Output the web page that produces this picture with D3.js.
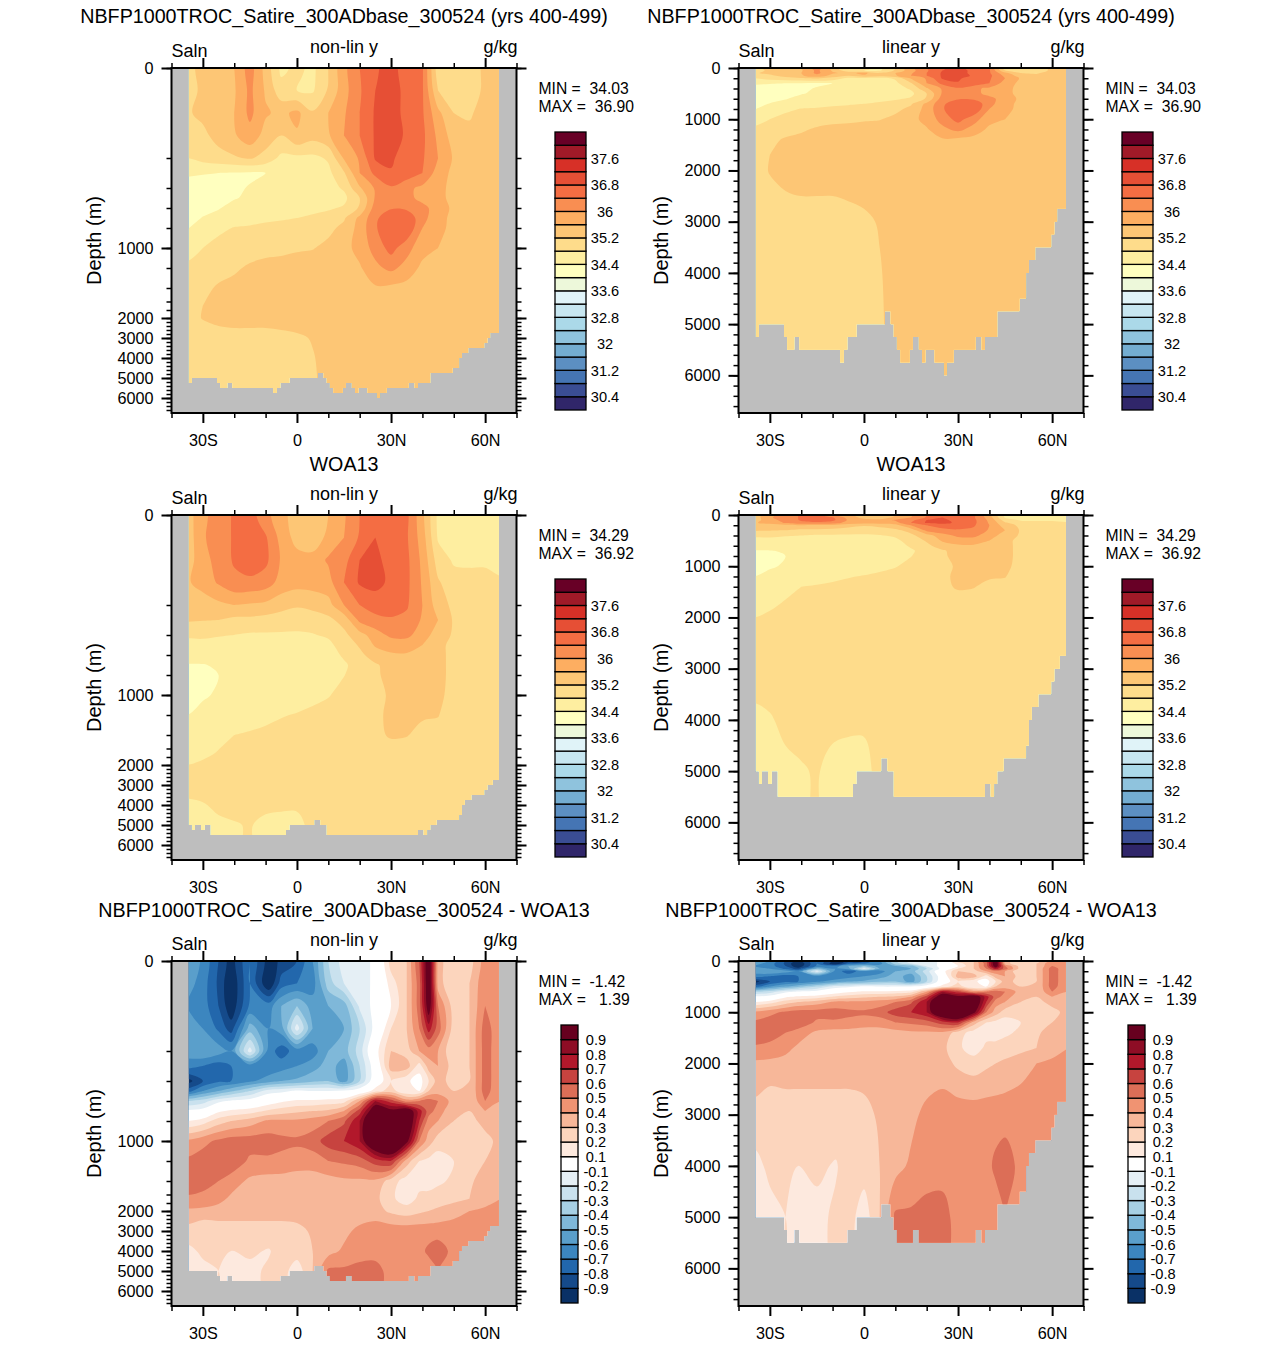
<!DOCTYPE html>
<html>
<head>
<meta charset="utf-8">
<script src="https://d3js.org/d3.v7.min.js"></script>
<style>
  body { margin: 0; background: #fff; }
  text { font-family: "Liberation Sans", Arial, sans-serif; fill: #000; white-space: pre; }
  .axis text { font-size: 16.2px; }
</style>
</head>
<body>
<div id="chart"></div>
<script>
const w = 1285;
const h = 1345;

// grid of the sections
const lats = [-35,-30,-25,-20,-15,-10,-5,0,5,10,15,20,25,30,35,40,45,50,55,60,65];
const latsDiff = [-35,-30,-25,-21,-15,-9,-5,0,5,10,15,20,25,30,35,39,42,45,50,55,60,65];
const depths = [0,50,100,150,200,300,400,500,600,700,800,1000,1200,1400,1700,2000,3000,4000,5000,6000];

// model salinity, one row per depth
const saltModel = [
  [35.1,35.3,35.4,35.6,36.2,35.45,34.7,34.9,34.7,35.2,35.9,36.4,36.75,36.95,36.6,36.45,34.95,34.9,34.95,35.3,35.2],
  [35.1,35.25,35.4,35.55,36.1,35.55,34.95,34.8,34.75,35.25,35.85,36.35,36.8,36.95,36.7,36.45,35.2,34.95,34.95,35.3,35.2],
  [35.15,35.3,35.4,35.6,36.1,35.65,35.5,35.7,35.25,35.6,35.95,36.4,36.85,36.95,36.7,36.45,35.7,35.2,35.15,35.35,35.35],
  [35.05,35.1,35.35,35.55,35.85,35.45,35.2,35.55,35.35,35.55,36.0,36.4,36.85,36.95,36.75,36.5,35.9,35.4,35.3,35.3,35.3],
  [34.8,34.95,35.05,35.15,35.25,35.05,34.7,34.7,34.7,34.85,35.65,36.05,36.85,36.9,36.5,36.45,36.0,35.55,35.35,35.35,35.3],
  [34.45,34.42,34.4,34.38,34.35,34.4,34.55,34.6,34.65,34.7,35.15,36.0,36.5,36.75,36.65,36.4,35.8,35.5,35.3,35.5,35.3],
  [34.25,34.25,34.3,34.35,34.42,34.5,34.6,34.62,34.65,34.65,34.85,35.55,36.05,36.35,36.1,35.9,35.75,35.45,35.3,35.35,35.3],
  [34.15,34.3,34.3,34.38,34.45,34.55,34.62,34.65,34.7,34.72,34.7,35.2,36.05,36.2,36.1,35.9,35.75,35.45,35.3,35.3,35.3],
  [34.2,34.28,34.38,34.5,34.55,34.6,34.65,34.68,34.72,34.75,34.85,35.25,36.2,36.35,36.3,36.1,35.85,35.5,35.3,35.3,35.3],
  [34.25,34.42,34.5,34.6,34.65,34.72,34.75,34.8,34.85,34.95,35.15,35.7,36.3,36.75,36.75,36.1,35.8,35.45,35.3,35.3,35.3],
  [34.38,34.55,34.7,34.82,34.85,34.9,34.95,35.0,35.05,35.1,35.3,35.75,36.35,36.75,36.75,36.0,35.75,35.45,35.3,35.3,35.3],
  [34.7,34.8,34.95,35.0,35.05,35.1,35.1,35.15,35.18,35.3,35.45,35.75,36.15,36.55,36.15,35.75,35.6,35.35,35.3,35.3,35.3],
  [34.85,35.0,35.05,35.15,35.25,35.3,35.35,35.38,35.4,35.45,35.5,35.55,35.9,36.1,35.85,35.5,35.45,35.35,35.3,35.3,35.3],
  [34.95,35.1,35.25,35.3,35.35,35.35,35.4,35.4,35.42,35.43,35.45,35.45,35.55,35.5,35.45,35.4,35.38,35.35,35.3,35.3,35.3],
  [35.0,35.2,35.3,35.35,35.35,35.38,35.4,35.4,35.4,35.4,35.4,35.4,35.4,35.4,35.4,35.38,35.35,35.35,35.3,35.3,35.3],
  [35.05,35.22,35.3,35.35,35.35,35.35,35.35,35.35,35.35,35.35,35.35,35.35,35.35,35.35,35.35,35.35,35.35,35.35,35.3,35.3,35.3],
  [34.95,35.0,35.05,35.05,35.05,35.05,35.1,35.15,35.22,35.3,35.35,35.35,35.35,35.35,35.35,35.35,35.35,35.35,35.3,35.3,35.3],
  [34.95,34.98,35.0,35.02,35.02,35.03,35.05,35.1,35.18,35.3,35.35,35.35,35.35,35.35,35.35,35.35,35.35,35.35,35.3,35.3,35.3],
  [34.95,34.98,35.0,35.02,35.02,35.03,35.05,35.1,35.18,35.25,35.35,35.35,35.35,35.35,35.35,35.35,35.35,35.35,35.3,35.3,35.3],
  [34.95,34.98,35.0,35.02,35.02,35.03,35.05,35.1,35.18,35.25,35.35,35.35,35.35,35.35,35.35,35.35,35.35,35.35,35.3,35.3,35.3]
];

// WOA13 salinity
const saltWoa = [
  [35.4,35.9,36.2,36.45,36.6,36.1,35.8,35.3,35.3,35.6,35.95,36.4,36.65,36.75,36.5,35.7,34.7,34.6,34.6,34.6,34.7],
  [35.35,35.95,36.2,36.45,36.65,36.45,35.85,35.45,35.25,35.75,36.0,36.45,36.8,36.7,36.45,35.8,34.75,34.7,34.75,34.75,34.7],
  [35.4,35.85,36.15,36.45,36.65,36.5,35.95,35.75,35.8,36.05,36.25,36.8,36.9,36.65,36.5,35.9,35.0,34.75,34.72,34.72,34.75],
  [35.55,35.75,36.05,36.3,36.3,36.2,35.85,35.75,35.75,35.85,36.4,36.85,36.95,36.7,36.5,35.95,35.25,34.95,34.95,34.95,34.82],
  [35.35,35.4,35.5,35.6,35.55,35.5,35.35,35.25,35.35,35.45,36.0,36.4,36.55,36.6,36.45,36.0,35.4,35.1,35.0,35.0,35.0],
  [35.25,35.22,35.2,35.1,35.1,35.05,35.0,34.95,34.95,35.1,35.35,36.1,36.3,36.35,36.3,35.95,35.6,35.15,35.0,35.0,35.0],
  [34.85,34.85,34.82,34.8,34.75,34.75,34.75,34.75,34.78,34.85,35.1,35.45,35.8,36.1,36.1,35.8,35.4,35.15,34.95,34.95,34.95],
  [34.7,34.72,34.7,34.68,34.66,34.65,34.65,34.65,34.65,34.72,34.95,35.25,35.65,35.75,35.8,35.6,35.3,35.1,34.95,34.95,34.95],
  [34.55,34.6,34.62,34.62,34.62,34.6,34.6,34.6,34.6,34.65,34.85,35.1,35.4,35.55,35.55,35.4,35.3,35.1,34.95,34.95,34.95],
  [34.38,34.38,34.45,34.55,34.55,34.55,34.55,34.55,34.58,34.62,34.75,34.95,35.15,35.35,35.35,35.35,35.3,35.1,34.95,34.95,34.95],
  [34.3,34.33,34.4,34.48,34.55,34.55,34.55,34.55,34.6,34.7,34.79,34.95,35.15,35.3,35.35,35.35,35.3,35.1,34.95,34.95,34.95],
  [34.3,34.35,34.45,34.5,34.55,34.6,34.62,34.65,34.7,34.78,34.9,35.0,35.1,35.25,35.3,35.3,35.3,35.05,34.95,34.95,34.95],
  [34.4,34.52,34.6,34.65,34.68,34.72,34.78,34.82,34.88,34.92,34.98,35.03,35.12,35.28,35.28,35.25,35.22,34.95,34.95,34.95,34.95],
  [34.5,34.6,34.7,34.8,34.83,34.87,34.9,34.92,34.95,34.97,35.0,35.03,35.1,35.25,35.22,35.08,35.05,34.95,34.95,34.95,34.95],
  [34.6,34.72,34.82,34.88,34.9,34.92,34.95,34.95,34.95,34.97,34.98,35.0,35.02,35.02,35.02,35.0,34.98,34.98,34.95,34.95,34.95],
  [34.8,34.86,34.9,34.95,34.95,34.95,34.95,34.95,34.95,34.95,34.95,34.95,34.95,34.95,34.95,34.95,34.95,34.95,34.95,34.95,34.95],
  [34.9,34.92,34.95,34.95,34.95,34.95,34.95,34.95,34.95,34.95,34.95,34.95,34.95,34.95,34.95,34.95,34.95,34.95,34.95,34.95,34.95],
  [34.75,34.78,34.85,34.88,34.88,34.87,34.85,34.85,34.9,34.9,34.9,34.9,34.9,34.9,34.9,34.9,34.9,34.9,34.9,34.9,34.9],
  [34.7,34.7,34.75,34.78,34.82,34.72,34.7,34.7,34.9,34.9,34.9,34.9,34.9,34.9,34.9,34.9,34.9,34.9,34.9,34.9,34.9],
  [34.7,34.7,34.75,34.78,34.82,34.72,34.7,34.7,34.9,34.9,34.9,34.9,34.9,34.9,34.9,34.9,34.9,34.9,34.9,34.9,34.9]
];

// model minus WOA13, columns follow latsDiff
const saltDiff = [
  [-.5,-.62,-.8,-.95,-.7,-.95,-.88,-.8,-.6,-.3,-.15,-.14,-.08,.25,.3,.6,1.05,.35,.2,.25,.45,.42],
  [-.55,-.65,-.82,-1,-.7,-1,-.75,-.7,-.65,-.35,-.2,-.14,-.08,.15,.3,.55,1.05,.35,.2,.3,.48,.42],
  [-.6,-.65,-.8,-.98,-.68,-.65,-.5,-.4,-.55,-.5,-.45,-.18,-.06,.1,.3,.55,1,.5,.25,.3,.5,.42],
  [-.55,-.6,-.72,-.85,-.45,-.6,-.55,-.15,-.5,-.55,-.5,-.3,-.05,.2,.3,.5,.75,.55,.25,.3,.55,.42],
  [-.55,-.5,-.55,-.6,-.15,-.65,-.75,-.65,-.65,-.5,-.45,-.25,.05,.3,.25,.4,.45,.4,.2,.3,.55,.42],
  [-.65,-.7,-.75,-.7,-.65,-.68,-.65,-.6,-.55,-.45,-.55,-.3,-.02,.35,.35,.15,.35,.4,.25,.3,.55,.42],
  [-.95,-.8,-.72,-.7,-.62,-.55,-.5,-.48,-.42,-.4,-.55,-.3,0,.2,.12,.05,.2,.35,.25,.3,.55,.42],
  [-.75,-.6,-.5,-.42,-.3,-.15,-.13,-.08,-.1,-.1,-.08,-.02,.15,.25,.1,.1,.3,.35,.3,.3,.55,.4],
  [-.3,-.25,-.13,-.08,-.05,.03,.08,.12,.12,.14,.16,.4,.8,.65,.45,.5,.55,.5,.35,.3,.5,.4],
  [-.08,-.05,.08,.12,.15,.22,.25,.28,.3,.32,.4,.65,1.05,.95,1.05,.75,.55,.45,.32,.3,.4,.35],
  [.1,.15,.25,.3,.35,.42,.42,.42,.45,.5,.58,.8,1.2,1.25,1.1,.7,.45,.4,.3,.25,.35,.35],
  [.42,.47,.52,.55,.55,.55,.53,.52,.55,.65,.7,.8,1.15,1.3,.95,.5,.35,.25,.2,.25,.25,.35],
  [.52,.55,.57,.58,.48,.48,.47,.45,.45,.5,.52,.55,.65,.7,.35,.2,.17,.15,.2,.25,.3,.35],
  [.58,.57,.5,.45,.38,.36,.36,.35,.35,.36,.38,.38,.38,.25,.15,.17,.15,.18,.22,.28,.35,.35],
  [.48,.45,.43,.38,.34,.33,.33,.33,.33,.33,.33,.33,.33,.22,.15,.22,.24,.25,.27,.3,.36,.4],
  [.38,.38,.36,.35,.33,.33,.33,.33,.33,.33,.33,.33,.34,.28,.25,.28,.3,.32,.36,.4,.42,.43],
  [.26,.2,.24,.25,.27,.27,.27,.28,.31,.33,.37,.43,.46,.46,.46,.46,.46,.46,.46,.45,.45,.45],
  [.17,.22,.24,.2,.22,.19,.25,.25,.3,.36,.42,.44,.45,.45,.45,.47,.52,.55,.47,.42,.42,.42],
  [.14,.17,.2,.18,.17,.22,.25,.14,.3,.52,.52,.55,.55,.45,.42,.42,.45,.5,.45,.42,.42,.42],
  [.14,.17,.2,.18,.17,.22,.25,.14,.3,.52,.52,.55,.55,.45,.42,.42,.45,.5,.45,.42,.42,.42]
];

// ocean floor as steps: each depth holds from its lat edge to the next edge
const floorLatModel = [-34.5,-33.5,-25.5,-24.5,-22.2,-20.6,-7.6,-6.4,-5.3,-2.4,6.7,8.5,9.5,10.5,11.6,14.6,15.6,17.5,18.5,19.6,22.5,25.5,26.5,28.6,35.6,37.5,38.6,42.5,49.6,51.7,52.6,54.6,59.7,60.7,61.6,64.4];
const floorDepthModel = [5250,5000,5250,5500,5250,5500,5750,5500,5250,5000,4750,5000,5250,5500,5750,5500,5250,5500,5750,5500,5750,6000,5750,5500,5250,5500,5250,4750,4500,4000,3750,3500,3250,3000,2750,2750];
const floorLatWoa = [-34.5,-33.5,-32.5,-30.6,-29.4,-27.5,-3.5,-2.4,5.5,7.5,9.5,38.6,40.4,41.5,42.5,44.5,51.7,52.6,53.5,55.6,59.7,60.7,62.4,64.4];
const floorDepthWoa = [5000,5250,5000,5250,5000,5500,5250,5000,4750,5000,5500,5250,5500,5250,5000,4750,4500,4000,3750,3500,3250,3000,2750,2750];
const floorLatDiff = [-34.5,-25.5,-24.5,-22.2,-20.6,-5.3,-2.4,5.5,8.5,9.5,10.5,15.6,17.5,35.6,37.5,38.6,42.5,49.6,51.7,52.6,54.6,59.7,60.7,61.6,64.4];
const floorDepthDiff = [5000,5250,5500,5250,5500,5250,5000,4750,5000,5250,5500,5250,5500,5250,5500,5250,4750,4500,4000,3750,3500,3250,3000,2750,2750];

// colour levels
const saltLevels = [30.4,30.8,31.2,31.6,32,32.4,32.8,33.2,33.6,34,34.4,34.8,35.2,35.6,36,36.4,36.8,37.2,37.6,38];
const saltColors = ["#30266a","#3a4d94","#4575b4","#5c8fc2","#74add1","#8fc3dd","#abd9e9","#c7e6f0","#e0f3f8","#edf8da","#ffffbf","#feeea0","#fedc8b","#fdc675","#fdae61","#f98e52","#f46d43","#e64f35","#d73027","#a01a28","#680026"];
const saltLabels = ["30.4","","31.2","","32","","32.8","","33.6","","34.4","","35.2","","36","","36.8","","37.6",""];
const diffLevels = [-.9,-.8,-.7,-.6,-.5,-.4,-.3,-.2,-.1,.1,.2,.3,.4,.5,.6,.7,.8,.9];
const diffColors = ["#0a3166","#154a8a","#2267ac","#3c86bf","#5a9fcb","#7fb8d9","#a7d0e4","#c9e1ee","#e5eff5","#ffffff","#fde9de","#fcd5bd","#f7b799","#f09372","#dc6e57","#c7433f","#b2182b","#8e0d25","#67001f"];
const diffLabels = ["-0.9","-0.8","-0.7","-0.6","-0.5","-0.4","-0.3","-0.2","-0.1","0.1","0.2","0.3","0.4","0.5","0.6","0.7","0.8","0.9"];

// axis ticks
const latMajor = [-30,0,30,60];
const latMajorLabels = ["30S","0","30N","60N"];
const latMinor = [-40,-20,-10,10,20,40,50,70];
const depthMajor = [0,1000,2000,3000,4000,5000,6000];
const depthMinor = d3.range(0, 6735, 200);
const nonLinDomain = [0,200,400,600,800,1000,1200,1400,1600,1800,2000,6750];
const nonLinRange = [0,90,120,140,160,180,200,220,233.5,242,250,345];

const runName = "NBFP1000TROC_Satire_300ADbase_300524";
const rows = [
  {top: 68, title: runName + " (yrs 400-499)", grid: saltModel, la: lats, levels: saltLevels, colors: saltColors, labels: saltLabels, fl: floorLatModel, fd: floorDepthModel, min: "MIN =  34.03", max: "MAX =  36.90", barX: 555, barW: 31, labelX: 605, titleY: 23},
  {top: 515, title: "WOA13", grid: saltWoa, la: lats, levels: saltLevels, colors: saltColors, labels: saltLabels, fl: floorLatWoa, fd: floorDepthWoa, min: "MIN =  34.29", max: "MAX =  36.92", barX: 555, barW: 31, labelX: 605, titleY: 471},
  {top: 961, title: runName + " - WOA13", grid: saltDiff, la: latsDiff, levels: diffLevels, colors: diffColors, labels: diffLabels, fl: floorLatDiff, fd: floorDepthDiff, min: "MIN =  -1.42", max: "MAX =   1.39", barX: 561, barW: 17, labelX: 596, titleY: 917}
];
const cols = [
  {left: 171.5, name: "non-lin y", nonLin: true},
  {left: 738.5, name: "linear y", nonLin: false}
];

const svg = d3.select("#chart").append("svg").attr("width", w).attr("height", h);
const pw = 345, ph = 345;
let clipId = 0;

function drawPanel(row, col) {
  const g = svg.append("g").attr("transform", `translate(${col.left},${row.top})`);
  const x = d3.scaleLinear().domain([-40, 70]).range([0, pw]);
  const y = col.nonLin
    ? d3.scaleLinear().domain(nonLinDomain).range(nonLinRange)
    : d3.scaleLinear().domain([0, 6735]).range([0, ph]);

  // land colour first, ocean is cut out of it
  g.append("rect").attr("width", pw).attr("height", ph).attr("fill", "#bebebe");

  const id = "ocean" + (clipId++);
  const floor = d3.area().curve(d3.curveStepAfter)
    .x((d, i) => x(row.fl[i])).y0(0).y1(d => y(d));
  g.append("clipPath").attr("id", id).append("path").attr("d", floor(row.fd));

  const ocean = g.append("g").attr("clip-path", `url(#${id})`);
  ocean.append("rect").attr("width", pw).attr("height", ph).attr("fill", row.colors[0]);

  // pad the grid by one cell so that the bands run past the clip
  const nx = row.la.length, ny = depths.length;
  const values = [];
  for (let j = -1; j <= ny; j++) {
    const r = row.grid[Math.max(0, Math.min(ny - 1, j))];
    for (let i = -1; i <= nx; i++) values.push(r[Math.max(0, Math.min(nx - 1, i))]);
  }
  const cellX = d3.scaleLinear().domain(d3.range(0, nx + 2)).range([row.la[0] - 8, ...row.la, row.la[nx - 1] + 8].map(x));
  const cellY = d3.scaleLinear().domain(d3.range(0, ny + 2)).range([-400, ...depths, 7200].map(y));

  const contours = d3.contours().size([nx + 2, ny + 2]).thresholds(row.levels)(values);
  const ring = d3.line().curve(d3.curveCatmullRomClosed.alpha(0.5))
    .x(p => cellX(p[0] - 0.5)).y(p => cellY(p[1] - 0.5));

  contours.forEach((c, i) => {
    const rings = c.coordinates.flat().map(r => ring(r.slice(0, -1)));
    if (!rings.length) return;
    ocean.append("path").attr("d", rings.join(""))
      .attr("fill", row.colors[i + 1]).attr("fill-rule", "evenodd");
  });

  // axes on all four sides
  const latFmt = d => latMajorLabels[latMajor.indexOf(d)];
  const depthFmt = d => d3.format("d")(d);
  const minorX = (axis) => axis(x).tickValues(latMinor).tickSize(5).tickSizeOuter(0).tickFormat("");
  const majorX = (axis) => axis(x).tickValues(latMajor).tickSize(10).tickSizeOuter(0);
  const minorY = (axis) => axis(y).tickValues(depthMinor).tickSize(5).tickSizeOuter(0).tickFormat("");
  const majorY = (axis) => axis(y).tickValues(depthMajor).tickSize(10).tickSizeOuter(0);

  const ax = (sel, gen, weight) => {
    const a = g.append("g").attr("class", "axis");
    if (sel) a.attr("transform", sel);
    a.call(gen).attr("font-family", null).attr("font-size", null);
    a.selectAll(".domain").remove();
    a.selectAll("line").attr("stroke", "#000").attr("stroke-width", weight);
  };
  ax(null, minorX(d3.axisTop), 1.5);
  ax(null, majorX(d3.axisTop).tickFormat(""), 2);
  ax(`translate(0,${ph})`, minorX(d3.axisBottom), 1.5);
  ax(`translate(0,${ph})`, majorX(d3.axisBottom).tickFormat(latFmt).tickPadding(11), 2);
  ax(null, minorY(d3.axisLeft), 1.5);
  ax(null, majorY(d3.axisLeft).tickFormat(depthFmt).tickPadding(8), 2);
  ax(`translate(${pw},0)`, minorY(d3.axisRight), 1.5);
  ax(`translate(${pw},0)`, majorY(d3.axisRight).tickFormat(""), 2);

  g.append("rect").attr("width", pw).attr("height", ph)
    .attr("fill", "none").attr("stroke", "#000").attr("stroke-width", 2);

  // texts round the panel
  g.append("text").attr("x", pw / 2).attr("y", row.titleY - row.top).attr("text-anchor", "middle")
    .style("font-size", "19.7px").text(row.title);
  g.append("text").attr("x", 0).attr("y", -11).style("font-size", "18px").text("Saln");
  g.append("text").attr("x", pw / 2).attr("y", -15).attr("text-anchor", "middle").style("font-size", "18px").text(col.name);
  g.append("text").attr("x", pw + 1).attr("y", -15).attr("text-anchor", "end").style("font-size", "18px").text("g/kg");
  g.append("text").attr("transform", `translate(-71,${ph / 2}) rotate(-90)`)
    .attr("text-anchor", "middle").style("font-size", "20px").text("Depth (m)");

  g.append("text").attr("x", pw + 22).attr("y", 26).style("font-size", "15.7px").text(row.min);
  g.append("text").attr("x", pw + 22).attr("y", 44).style("font-size", "15.7px").text(row.max);

  // colour bar
  const shift = col.left - 171.5;
  const barTop = 64, barH = 278;
  const bar = svg.append("g").attr("transform", `translate(${row.barX + shift},${row.top + barTop})`);
  const band = d3.scaleBand().domain(d3.range(row.colors.length)).range([barH, 0]);
  bar.selectAll("rect").data(row.colors).enter().append("rect")
    .attr("x", 0).attr("y", (d, i) => band(i))
    .attr("width", row.barW).attr("height", band.bandwidth())
    .attr("fill", d => d).attr("stroke", "#000").attr("stroke-width", 1.3);
  bar.selectAll("text").data(row.labels).enter().append("text")
    .attr("x", row.labelX - row.barX)
    .attr("y", (d, i) => band(i))
    .attr("dy", "0.36em").attr("text-anchor", "middle")
    .style("font-size", "14.6px").text(d => d);
}

rows.forEach(row => cols.forEach(col => drawPanel(row, col)));
</script>
</body>
</html>
